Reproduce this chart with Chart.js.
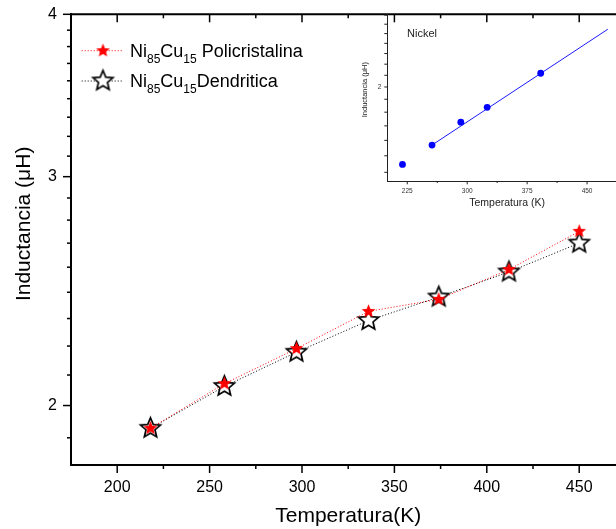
<!DOCTYPE html>
<html>
<head>
<meta charset="utf-8">
<script src="https://cdn.jsdelivr.net/npm/chart.js@4.4.1/dist/chart.umd.min.js"></script>
<style>
  html, body { margin: 0; padding: 0; background: #fff; overflow: hidden; }
  #wrap { position: relative; width: 616px; height: 529px; overflow: hidden; background: #fff; }
  #main { position: absolute; left: 0; top: 0; width: 640px; height: 529px; }
  #inset { position: absolute; left: 340px; top: 0; width: 300px; height: 225px; }
</style>
</head>
<body>
<div id="wrap">
  <canvas id="main" width="640" height="529"></canvas>
  <canvas id="inset" width="300" height="225"></canvas>
</div>
<script>
// ---- data: Ni85Cu15 inductance vs temperature ----
const temperatura = [218, 258, 297, 336, 374, 412, 450];
const policristalina = [1.921, 2.079, 2.212, 2.363, 2.414, 2.545, 2.723];
const dendritica = [1.921, 2.069, 2.198, 2.325, 2.424, 2.534, 2.667];
const xMajorTicks = [200, 250, 300, 350, 400, 450];
const yMajorTicks = [2, 3, 4];

// ---- data: nickel reference (inset) ----
const nickelTemp = [219, 256, 292, 325, 392];
const nickelInd = [1.447, 1.569, 1.726, 1.837, 2.118];
const nickelFitTemp = [256, 476];
const nickelFitInd = [1.569, 2.546];
const insetXTicks = [225, 300, 375, 450];
const insetYTicks = [2];

const FONT = '"Liberation Sans", Arial, Helvetica, sans-serif';

// five-pointed star drawn into a small canvas, used as a point style
function starImage(R, inner, fill, stroke, lw) {
  const pad = Math.ceil(lw) + 1;
  const size = Math.ceil(2 * R) + 2 * pad;
  const c = document.createElement('canvas');
  c.width = size; c.height = size;
  const g = c.getContext('2d');
  const cx = size / 2, cy = size / 2;
  g.beginPath();
  for (let i = 0; i < 10; i++) {
    const r = i % 2 ? R * inner : R;
    const ang = -Math.PI / 2 + i * Math.PI / 5;
    g.lineTo(cx + r * Math.cos(ang), cy + r * Math.sin(ang));
  }
  g.closePath();
  if (fill) { g.fillStyle = fill; g.fill(); }
  if (stroke) { g.strokeStyle = stroke; g.lineWidth = lw; g.lineJoin = 'miter'; g.stroke(); }
  return c;
}
const redStar = starImage(7.2, 0.45, '#ff0000', null, 0);
const openStar = starImage(10.5, 0.45, '#ffffff', '#000000', 1.7);

// minor tick values on a fixed step, skipping majors and the axis ends
function minorTicks(anchor, step, lo, hi, majors) {
  const out = [];
  const start = anchor - Math.floor((anchor - lo) / step + 1e-9) * step;
  for (let v = start; v <= hi + 1e-9; v += step) {
    if (v <= lo + 1e-9) continue;
    if (majors.some(m => Math.abs(m - v) < 1e-6)) continue;
    out.push(v);
  }
  return out;
}

// tick marks: outward on bottom/left, inward on the mirrored top frame
const axisTicks = {
  id: 'axisTicks',
  afterDraw(chart, args, o) {
    const { ctx, chartArea: a, scales } = chart;
    ctx.save();
    ctx.strokeStyle = o.color;
    ctx.lineCap = 'butt';
    const seg = (x1, y1, x2, y2) => { ctx.beginPath(); ctx.moveTo(x1, y1); ctx.lineTo(x2, y2); ctx.stroke(); };
    if (o.topFrame) {
      ctx.lineWidth = o.frameWidth;
      seg(a.left - o.frameWidth / 2, a.top, a.right + o.frameWidth / 2, a.top);
    }
    ctx.lineWidth = o.width;
    const xs = [[o.xMajor, o.xMajorLen], [o.xMinor, o.xMinorLen]];
    for (const [list, len] of xs) {
      for (const v of list) {
        const px = scales.x.getPixelForValue(v);
        seg(px, a.bottom, px, a.bottom + len);
        if (o.topFrame) seg(px, a.top, px, a.top + len);
      }
    }
    const ys = [[o.yMajor, o.yMajorLen], [o.yMinor, o.yMinorLen]];
    for (const [list, len] of ys) {
      for (const v of list) {
        const py = scales.y.getPixelForValue(v);
        seg(a.left - len, py, a.left, py);
      }
    }
    ctx.restore();
  }
};

// rotated y-axis title and free text labels
const textLabels = {
  id: 'textLabels',
  afterDraw(chart, args, o) {
    const { ctx, chartArea: a } = chart;
    ctx.save();
    ctx.fillStyle = o.color || '#000';
    if (o.yTitle) {
      const t = o.yTitle;
      ctx.translate(t.x, a.top + (a.bottom - a.top) * t.frac);
      ctx.rotate(-Math.PI / 2);
      ctx.font = t.size + 'px ' + FONT;
      ctx.textAlign = 'center';
      ctx.textBaseline = 'middle';
      ctx.fillText(t.text, 0, 0);
      ctx.setTransform(1, 0, 0, 1, 0, 0);
    }
    for (const n of (o.notes || [])) {
      ctx.font = n.size + 'px ' + FONT;
      ctx.textAlign = 'left';
      ctx.textBaseline = 'alphabetic';
      ctx.fillText(n.text, a.left + n.dx, a.top + n.dy);
    }
    ctx.restore();
  }
};

// legend with subscripted composition numbers
const subLegend = {
  id: 'subLegend',
  afterDatasetsDraw(chart, args, o) {
    const { ctx, chartArea: a } = chart;
    chart.data.datasets.forEach((ds, i) => {
      const cy = a.top + o.top + i * o.rowGap;
      ctx.save();
      ctx.strokeStyle = ds.borderColor;
      ctx.lineWidth = 1;
      ctx.setLineDash(ds.borderDash);
      ctx.beginPath();
      ctx.moveTo(a.left + o.lineStart, cy);
      ctx.lineTo(a.left + o.lineEnd, cy);
      ctx.stroke();
      ctx.setLineDash([]);
      const img = ds.pointStyle;
      ctx.drawImage(img, a.left + o.symbolX - img.width / 2, cy - img.height / 2);
      let x = a.left + o.textX;
      const base = cy + o.baseline;
      ctx.fillStyle = '#000';
      ctx.textAlign = 'left';
      ctx.textBaseline = 'alphabetic';
      ds.label.split(/(\d+)/).forEach((part, k) => {
        if (!part) return;
        const sub = k % 2 === 1;
        ctx.font = (sub ? o.subSize : o.size) + 'px ' + FONT;
        ctx.fillText(part, x, base + (sub ? o.subDrop : 0));
        x += ctx.measureText(part).width;
      });
      ctx.restore();
    });
  }
};

// fixed axis box sizes so the plot frame lands where it should
function fixWidth(w) {
  return s => { s.width = w; s.paddingTop = 0; s.paddingBottom = 0; };
}
function fixHeight(h) {
  return s => { s.height = h; s.paddingLeft = 0; s.paddingRight = 0; };
}

Chart.defaults.font.family = FONT;
Chart.defaults.color = '#000';

// ---- main chart ----
new Chart(document.getElementById('main'), {
  type: 'line',
  data: {
    datasets: [
      {
        label: 'Ni85Cu15 Policristalina',
        data: temperatura.map((t, i) => ({ x: t, y: policristalina[i] })),
        borderColor: '#ff0000',
        borderWidth: 1,
        borderDash: [1, 2],
        pointStyle: redStar,
        pointRadius: 7,
        tension: 0,
        order: 0
      },
      {
        label: 'Ni85Cu15Dendritica',
        data: temperatura.map((t, i) => ({ x: t, y: dendritica[i] })),
        borderColor: '#000000',
        borderWidth: 1,
        borderDash: [1, 2],
        pointStyle: openStar,
        pointRadius: 10,
        tension: 0,
        order: 1
      }
    ]
  },
  options: {
    responsive: false,
    animation: false,
    events: [],
    layout: { padding: { left: 0, top: 14.3, right: 14.6, bottom: 0 } },
    plugins: {
      legend: { display: false },
      tooltip: { enabled: false },
      axisTicks: {
        color: '#000', width: 1.5, frameWidth: 2, topFrame: true,
        xMajor: xMajorTicks, xMinor: minorTicks(200, 25, 175, 475, xMajorTicks),
        xMajorLen: 8, xMinorLen: 4,
        yMajor: yMajorTicks, yMinor: minorTicks(2, 1 / 9, 1.8, 4, yMajorTicks),
        yMajorLen: 8, yMinorLen: 4
      },
      textLabels: {
        yTitle: { text: 'Inductancia (\u03BCH)', x: 24, frac: 0.465, size: 21 }
      },
      subLegend: {
        top: 36.4, rowGap: 30.3, lineStart: 10.7, lineEnd: 52, symbolX: 32,
        textX: 59, baseline: 6, size: 18, subSize: 12, subDrop: 6
      }
    },
    scales: {
      x: {
        type: 'linear',
        min: 175, max: 475,
        grid: { display: false, drawTicks: false, tickLength: 0 },
        border: { display: true, color: '#000', width: 2 },
        ticks: { font: { size: 16 }, color: '#000', padding: 13, callback: v => String(v) },
        afterBuildTicks: s => { s.ticks = xMajorTicks.map(v => ({ value: v })); },
        afterFit: fixHeight(64),
        title: { display: true, text: 'Temperatura(K)', font: { size: 21 }, color: '#000', padding: { top: 0, bottom: 0 } }
      },
      y: {
        type: 'logarithmic',
        min: 1.8, max: 4,
        grid: { display: false, drawTicks: false, tickLength: 0 },
        border: { display: true, color: '#000', width: 2 },
        ticks: { font: { size: 16 }, color: '#000', padding: 14, callback: v => String(v) },
        afterBuildTicks: s => { s.ticks = yMajorTicks.map(v => ({ value: v })); },
        afterFit: fixWidth(71)
      }
    }
  },
  plugins: [axisTicks, textLabels, subLegend]
});

// ---- inset: nickel ----
new Chart(document.getElementById('inset'), {
  type: 'line',
  data: {
    datasets: [
      {
        label: 'Nickel',
        data: nickelTemp.map((t, i) => ({ x: t, y: nickelInd[i] })),
        showLine: false,
        pointStyle: 'circle',
        pointRadius: 3.4,
        pointBackgroundColor: '#0000ff',
        pointBorderWidth: 0,
        borderColor: '#0000ff'
      },
      {
        label: 'Ajuste',
        data: nickelFitTemp.map((t, i) => ({ x: t, y: nickelFitInd[i] })),
        borderColor: '#1a1aff',
        borderWidth: 1,
        pointRadius: 0,
        tension: 0
      }
    ]
  },
  options: {
    responsive: false,
    animation: false,
    events: [],
    layout: { padding: { left: 0, top: 14.3, right: 13, bottom: 0 } },
    plugins: {
      legend: { display: false },
      tooltip: { enabled: false },
      axisTicks: {
        color: '#222', width: 1, topFrame: false,
        xMajor: insetXTicks, xMinor: minorTicks(225, 37.5, 200, 500, insetXTicks),
        xMajorLen: 3.3, xMinorLen: 2,
        yMajor: insetYTicks, yMinor: minorTicks(2, 0.1, 1.35, 2.71, insetYTicks),
        yMajorLen: 3, yMinorLen: 3
      },
      textLabels: {
        color: '#222',
        yTitle: { text: 'Inductancia (\u03BCH)', x: 25, frac: 0.452, size: 7.5 },
        notes: [{ text: 'Nickel', dx: 19.7, dy: 22.7, size: 11 }]
      }
    },
    scales: {
      x: {
        type: 'linear',
        min: 200, max: 500,
        grid: { display: false, drawTicks: false, tickLength: 0 },
        border: { display: true, color: '#222', width: 1 },
        ticks: { font: { size: 6.5 }, color: '#333', padding: 6, callback: v => String(v) },
        afterBuildTicks: s => { s.ticks = insetXTicks.map(v => ({ value: v })); },
        afterFit: fixHeight(44),
        title: { display: true, text: 'Temperatura (K)', font: { size: 10.5 }, color: '#222', padding: { top: 0, bottom: 15.4 } }
      },
      y: {
        type: 'logarithmic',
        min: 1.35, max: 2.71,
        grid: { display: false, drawTicks: false, tickLength: 0 },
        border: { display: true, color: '#222', width: 1 },
        ticks: { font: { size: 6.5 }, color: '#333', padding: 6, callback: v => String(v) },
        afterBuildTicks: s => { s.ticks = insetYTicks.map(v => ({ value: v })); },
        afterFit: fixWidth(47.3)
      }
    }
  },
  plugins: [axisTicks, textLabels]
});
</script>
</body>
</html>
